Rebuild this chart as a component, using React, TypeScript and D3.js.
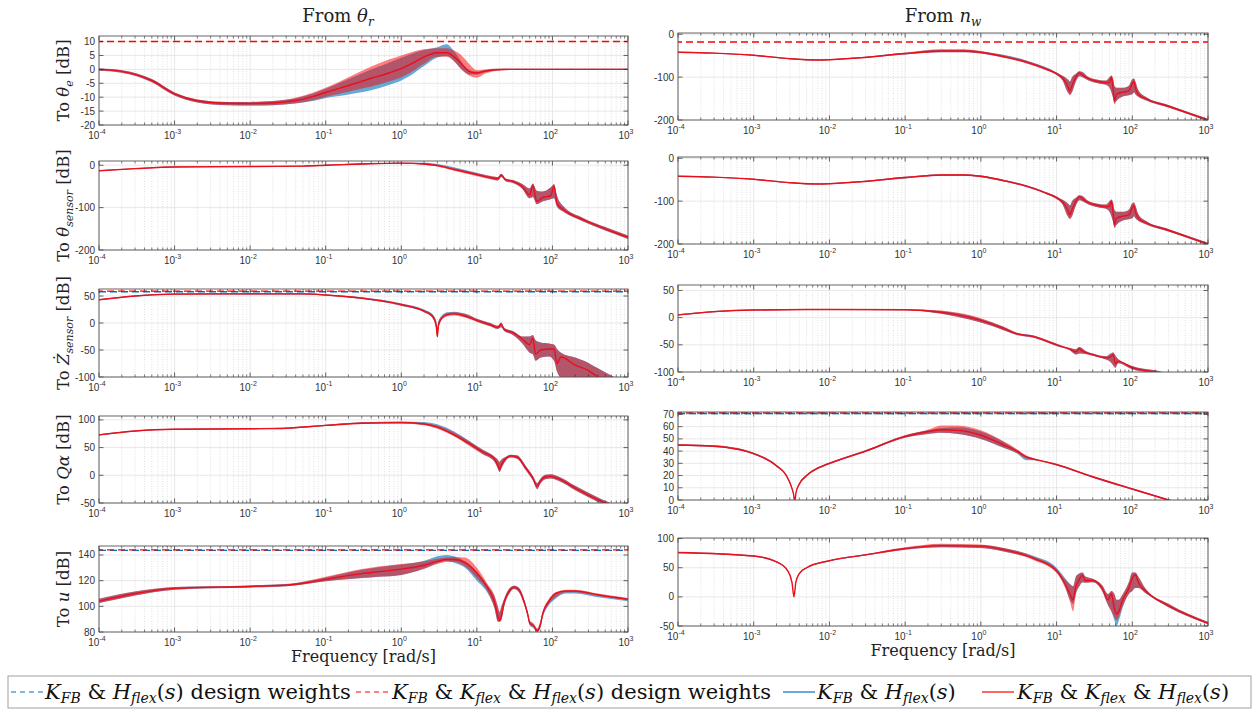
import React from 'react';
import * as d3 from 'd3';

type Row = [number, number, number, number, number, number];
// columns: frequency [rad/s], nominal dB, red band low, red band high, blue band low, blue band high

const thetaE: Row[] = [
  [1e-4, 0, -0.5, 0.3, -0.5, 0.3], [2e-4, -0.7, -1.2, -0.3, -1.2, -0.3], [5e-4, -4, -4.6, -3.5, -4.6, -3.5],
  [1e-3, -8.8, -9.4, -8.3, -9.4, -8.3], [2e-3, -11.3, -11.9, -10.8, -11.9, -10.8], [5e-3, -12.2, -12.9, -11.7, -12.9, -11.7],
  [1e-2, -12.3, -13, -11.7, -13, -11.7], [2e-2, -12.1, -12.9, -11.4, -12.9, -11.4], [4e-2, -11.2, -12.2, -10.2, -12.3, -10.4],
  [7e-2, -9.6, -11, -8.2, -11.3, -8.6], [0.1, -8.3, -9.8, -6.6, -10.3, -7], [0.2, -5.8, -8, -2.8, -9, -3.5],
  [0.4, -3.2, -6.2, 1, -7.5, 0], [0.7, -1.2, -4.3, 3.6, -5.5, 2.5], [1, 0.3, -2.8, 5, -4, 4.2],
  [1.5, 2.6, -0.2, 6.5, -1.2, 6], [2, 4.5, 2, 7.2, 1.2, 7], [3, 6, 4.5, 7.6, 4.3, 8], [4, 6, 4.5, 7.6, 4.8, 9],
  [5, 4.5, 2.8, 6.8, 3, 6.5], [6, 2.5, 0.5, 5.5, 0.5, 3.5], [7, 0.5, -1.3, 3.6, -1, 1], [8, -0.8, -2.3, 1.8, -1.8, -0.3],
  [10, -1.3, -3, -0.3, -1.8, -0.8], [13, -0.6, -1.5, 0, -1, -0.2], [20, -0.1, -0.4, 0.3, -0.3, 0.2],
  [30, 0, -0.2, 0.2, -0.2, 0.2], [1000, 0, -0.2, 0.2, -0.2, 0.2],
];

const thetaSensor: Row[] = [
  [1e-4, -13, -14, -12, -14, -12], [3e-4, -8, -9, -7, -9, -7], [1e-3, -4, -5, -3, -5, -3], [1e-2, -3, -4, -2, -4, -2],
  [5e-2, -2, -3, -1, -3, -1], [0.1, 0, -1, 1, -1, 1], [0.3, 3, 2, 4.5, 2, 4.5], [1, 5, 4, 6, 4, 6], [2, 3, 1, 5, 2, 6],
  [3, -1, -3, 2, 0, 3], [5, -10, -13, -7, -9, -5], [10, -22, -26, -19, -24, -18], [15, -29, -33, -25, -32, -26],
  [19, -32, -36, -28, -36, -28], [21, -23, -28, -20, -28, -20], [24, -34, -38, -31, -38, -31], [30, -38, -42, -35, -42, -35],
  [40, -50, -56, -44, -56, -44], [50, -70, -78, -55, -78, -55], [55, -48, -75, -43, -75, -43], [62, -85, -92, -60, -92, -60],
  [75, -76, -85, -62, -85, -62], [95, -72, -80, -52, -80, -52], [105, -50, -78, -45, -78, -45], [115, -90, -98, -72, -98, -72],
  [140, -105, -110, -97, -110, -97], [250, -128, -132, -124, -132, -124], [500, -150, -154, -146, -154, -146],
  [1000, -170, -174, -166, -174, -166],
];

const zDotSensor: Row[] = [
  [1e-4, 43, 42, 44, 42, 44], [3e-4, 50, 49, 51, 49, 51], [1e-3, 53.5, 52.5, 54.5, 52.5, 54.5], [1e-2, 54, 53, 55, 53, 55],
  [5e-2, 54, 53, 55, 53, 55], [0.1, 52, 51, 53, 51, 53], [0.3, 46, 44.5, 47.5, 44.5, 47.5], [1, 34, 32, 36, 32, 36],
  [2, 22, 20, 24, 20, 25], [2.6, 12, 9, 15, 10, 16], [2.9, -5, -12, 2, -10, 4], [3.0, -25, -28, -10, -26, -8],
  [3.1, -5, -12, 2, -10, 4], [3.4, 8, 5, 11, 7, 13], [4, 15, 12, 18, 14, 20], [5, 17, 14, 20, 16, 21], [7, 13, 10, 17, 11, 17],
  [10, 5, 2, 8, 3, 8], [15, -3, -6, 0, -6, 0], [19, -8, -11, -5, -11, -5], [21, -2, -8, 1, -8, 1], [23, -12, -15, -9, -15, -9],
  [30, -18, -22, -15, -22, -15], [40, -30, -38, -25, -38, -25], [50, -40, -55, -25, -55, -25], [55, -28, -58, -22, -58, -22],
  [60, -58, -70, -32, -70, -32], [70, -50, -64, -36, -64, -36], [90, -48, -62, -38, -62, -38], [105, -48, -70, -40, -70, -40],
  [115, -75, -90, -48, -90, -48], [130, -63, -102, -55, -102, -55], [200, -78, -112, -64, -112, -64],
  [300, -88, -120, -74, -120, -74], [400, -100, -128, -84, -128, -84], [700, -118, -140, -102, -140, -102],
  [1000, -130, -150, -112, -150, -112],
];

const qAlpha: Row[] = [
  [1e-4, 73, 72, 74, 72, 74], [3e-4, 80, 79, 81, 79, 81], [1e-3, 83, 82, 84, 82, 84], [1e-2, 84, 83, 85, 83, 85],
  [3e-2, 85, 84, 86, 84, 86], [0.1, 90, 89, 91, 89, 91], [0.3, 94, 93, 95.5, 93, 95.5], [1, 95, 93.5, 96.5, 93.5, 97],
  [2, 92.5, 90.5, 94.5, 91, 96], [3, 87, 84, 90, 86, 92], [5, 73, 70, 77, 72, 79], [8, 57, 53, 61, 54, 62],
  [12, 42, 38, 46, 38, 46], [17, 30, 25, 34, 25, 34], [19, 18, 12, 28, 12, 28], [20, 10, 6, 24, 6, 24],
  [21, 18, 12, 28, 12, 28], [24, 30, 26, 33, 26, 33], [28, 35, 32, 37, 32, 37], [34, 33, 30, 36, 30, 36],
  [45, 12, 8, 16, 8, 16], [55, -5, -9, -1, -9, -1], [63, -20, -25, -14, -25, -14], [68, -12, -17, -8, -17, -8],
  [80, -3, -7, 1, -7, 1], [95, -2, -6, 2, -6, 2], [120, -6, -10, -2, -10, -2], [200, -23, -27, -19, -27, -19],
  [400, -44, -48, -40, -48, -40], [500, -50, -54, -46, -54, -46], [1000, -68, -72, -64, -72, -64],
];

const uCmd: Row[] = [
  [1e-4, 104, 102.5, 106, 102.5, 106], [3e-4, 110, 108.5, 111.5, 108.5, 111.5], [1e-3, 114, 113, 115, 113, 115],
  [1e-2, 115.5, 114.7, 116.3, 114.7, 116.3], [3e-2, 116.5, 115.7, 117.3, 115.7, 117.3], [5e-2, 118, 117, 119.2, 117, 119],
  [0.1, 121, 119.5, 123, 119.5, 122.5], [0.3, 125.5, 122, 129, 122, 128.5], [0.5, 127, 123, 131, 123, 130.5],
  [1, 129, 124.5, 133, 124.5, 132.5], [2, 132, 129, 135, 129.5, 135.5], [3, 135, 133, 137, 133.5, 139],
  [4, 136.5, 134.5, 138, 135.5, 140], [5, 136.5, 134.5, 138.5, 134, 139], [7, 134, 131, 138, 130, 135],
  [10, 126, 122, 130, 120, 127], [14, 114, 111, 117, 110, 116], [17, 104, 99, 109, 99, 108], [19, 92, 88, 100, 88, 99],
  [20, 89, 88, 96, 88, 95], [21, 92, 89, 100, 89, 99], [23, 103, 100, 106, 100, 106], [27, 112, 110, 114, 110, 114],
  [31, 115, 113.5, 116, 113.5, 116], [36, 113, 111, 114.5, 111, 114.5], [42, 104, 102, 106, 102, 106],
  [47, 94, 92, 96, 92, 96], [50, 87, 86, 89, 85, 89], [56, 85, 84, 87, 83, 86], [63, 81, 80, 83, 80, 82],
  [68, 84, 82, 87, 82, 86], [75, 95, 93, 97, 92, 96], [90, 104, 102, 106, 101, 105], [110, 110, 107, 111, 106, 110],
  [150, 112, 111, 113, 110, 112], [200, 112, 111, 113, 110, 112], [400, 109, 108, 110, 107, 109],
  [1000, 105.5, 105, 106.5, 104, 105.5],
];

const nwThetaE: Row[] = [
  [1e-4, -42, -43, -41, -43, -41], [3e-4, -44, -45, -43, -45, -43], [1e-3, -49, -50, -48, -50, -48],
  [3e-3, -57, -58, -56, -58, -56], [7e-3, -60, -61, -59, -61, -59], [2e-2, -56, -57, -55, -57, -55],
  [0.1, -45, -47, -43, -47, -43], [0.3, -39, -42, -35, -42, -36], [0.6, -39, -42, -35, -42, -36],
  [1, -42, -45, -39, -45, -40], [2, -52, -55, -49, -54, -48], [4, -65, -68, -62, -67, -61], [7, -80, -83, -77, -82, -76],
  [10, -92, -95, -89, -95, -89], [12, -102, -108, -97, -108, -97], [14, -120, -135, -105, -135, -105],
  [15, -132, -142, -110, -140, -110], [16, -120, -135, -100, -135, -100], [18, -100, -110, -92, -110, -92],
  [20, -90, -98, -86, -98, -86], [22, -95, -100, -88, -100, -88], [26, -103, -107, -99, -107, -99],
  [35, -110, -114, -106, -114, -106], [45, -113, -118, -108, -118, -108], [50, -112, -125, -100, -125, -100],
  [53, -100, -135, -96, -135, -96], [56, -130, -150, -105, -150, -105], [58, -155, -162, -120, -162, -120],
  [62, -140, -155, -125, -155, -125], [75, -135, -145, -125, -145, -125], [90, -132, -142, -120, -142, -120],
  [100, -115, -140, -105, -140, -105], [105, -110, -135, -103, -135, -103], [110, -125, -140, -110, -140, -110],
  [120, -140, -146, -130, -146, -130], [150, -150, -154, -146, -154, -146], [300, -168, -171, -165, -171, -165],
  [1000, -200, -203, -197, -203, -197],
];

const nwThetaSensor: Row[] = [
  [1e-4, -42, -43, -41, -43, -41], [3e-4, -44, -45, -43, -45, -43], [1e-3, -49, -50, -48, -50, -48],
  [3e-3, -57, -58, -56, -58, -56], [7e-3, -60, -61, -59, -61, -59], [2e-2, -56, -57, -55, -57, -55],
  [0.1, -45, -47, -43, -47, -43], [0.3, -39, -41, -37, -41, -37], [0.6, -39, -41, -37, -41, -37],
  [1, -42, -44, -40, -44, -40], [2, -52, -54, -50, -54, -50], [4, -65, -67, -63, -67, -63], [7, -80, -82, -78, -82, -78],
  [10, -92, -95, -89, -95, -89], [12, -102, -108, -97, -108, -97], [14, -120, -135, -105, -135, -105],
  [15, -132, -142, -110, -140, -110], [16, -120, -135, -100, -135, -100], [18, -100, -110, -92, -110, -92],
  [20, -90, -98, -86, -98, -86], [22, -95, -100, -88, -100, -88], [26, -103, -107, -99, -107, -99],
  [35, -110, -114, -106, -114, -106], [45, -113, -118, -108, -118, -108], [50, -112, -125, -100, -125, -100],
  [53, -100, -135, -96, -135, -96], [56, -130, -150, -105, -150, -105], [58, -155, -162, -120, -162, -120],
  [62, -140, -155, -125, -155, -125], [75, -135, -145, -125, -145, -125], [90, -132, -142, -120, -142, -120],
  [100, -115, -140, -105, -140, -105], [105, -110, -135, -103, -135, -103], [110, -125, -140, -110, -140, -110],
  [120, -140, -146, -130, -146, -130], [150, -150, -154, -146, -154, -146], [300, -168, -171, -165, -171, -165],
  [1000, -200, -203, -197, -203, -197],
];

const nwZDot: Row[] = [
  [1e-4, 5, 4, 6, 4, 6], [3e-4, 11, 10, 12, 10, 12], [1e-3, 14, 13, 15, 13, 15], [1e-2, 15, 14, 16, 14, 16],
  [0.1, 14.5, 13.5, 15.5, 13.5, 15.5], [0.3, 10, 7, 13, 7, 12], [0.5, 5, 1, 9, 1, 8], [1, -5, -9, -1, -9, -2],
  [2, -20, -23, -17, -23, -17], [3, -30, -32, -28, -32, -28], [5, -35, -37, -33, -37, -33], [8, -45, -47, -43, -47, -43],
  [10, -50, -52, -48, -52, -48], [15, -58, -60, -56, -60, -56], [18, -63, -68, -58, -68, -58], [20, -57, -66, -54, -66, -54],
  [21, -60, -66, -55, -66, -55], [24, -64, -67, -61, -67, -61], [30, -68, -70, -66, -70, -66], [45, -74, -77, -71, -77, -71],
  [52, -72, -82, -66, -82, -66], [56, -68, -88, -64, -88, -64], [60, -85, -92, -70, -92, -70], [65, -80, -84, -76, -84, -76],
  [100, -92, -95, -89, -95, -89], [200, -100, -103, -97, -103, -97], [400, -110, -113, -107, -113, -107],
];

const nwQAlpha: Row[] = [
  [1e-4, 45, 44.3, 45.7, 44.3, 45.7], [3e-4, 44, 43.3, 44.7, 43.3, 44.7], [1e-3, 38, 37.3, 38.7, 37.3, 38.7],
  [2e-3, 28, 27.3, 28.7, 27.3, 28.7], [2.7e-3, 20, 19.3, 20.7, 19.3, 20.7], [3.1e-3, 12, 11.3, 12.7, 11.3, 12.7],
  [3.35e-3, 5, 4.5, 5.5, 4.5, 5.5], [3.48e-3, -1, -1.5, -0.5, -1.5, -0.5], [3.62e-3, 6, 5.5, 6.5, 5.5, 6.5],
  [4e-3, 13, 12.3, 13.7, 12.3, 13.7], [5e-3, 20, 19.3, 20.7, 19.3, 20.7], [7e-3, 26, 25.3, 26.7, 25.3, 26.7],
  [1e-2, 30, 29.3, 30.7, 29.3, 30.7], [3e-2, 40, 39.3, 40.7, 39.3, 40.7], [0.1, 52, 51, 53, 51, 53],
  [0.2, 56, 54, 57.5, 54, 57], [0.3, 57.5, 55, 61, 55, 59], [0.5, 57, 54, 61, 54, 59.5], [1, 53, 50, 57, 50, 56],
  [2, 45, 43, 48, 42.5, 47.5], [3, 40, 38.5, 41.5, 38, 41], [4, 35, 34, 36.5, 32.5, 36], [5, 33.5, 32.8, 34.2, 32.5, 34],
  [10, 29, 28.3, 29.7, 28.3, 29.7], [30, 19, 18.3, 19.7, 18.3, 19.7], [100, 9, 8.3, 9.7, 8.3, 9.7],
  [300, 0, -0.7, 0.7, -0.7, 0.7], [500, -4, -4.7, -3.3, -4.7, -3.3],
];

const nwU: Row[] = [
  [1e-4, 76, 75, 77, 75, 77], [1e-3, 70, 69, 71, 69, 71], [2e-3, 60, 59, 61, 59, 61], [2.8e-3, 45, 44, 46, 44, 46],
  [3.2e-3, 25, 24, 26, 24, 26], [3.4e-3, 0, -1, 1, -1, 1], [3.6e-3, 25, 24, 26, 24, 26], [4e-3, 40, 39, 41, 39, 41],
  [5e-3, 50, 49, 51, 49, 51], [1e-2, 62, 61, 63, 61, 63], [3e-2, 72, 71, 73, 71, 73], [0.1, 83, 81, 85, 81, 84],
  [0.3, 88, 85, 91, 85, 90], [1, 87, 84, 90, 84, 89], [2, 81, 78, 84, 78, 84], [5, 66, 63, 69, 64, 70],
  [10, 45, 41, 48, 42, 50], [13, 22, 15, 30, 17, 32], [15, 5, -8, 22, -5, 22], [16.5, -5, -25, 18, -12, 18],
  [18, 18, 5, 35, 5, 35], [20, 30, 18, 40, 18, 40], [22, 37, 25, 42, 25, 42], [24, 28, 24, 35, 24, 35],
  [30, 28, 25, 31, 25, 31], [40, 15, 10, 20, 10, 20], [48, -5, -15, 5, -15, 5], [53, 5, -25, 10, -25, 10],
  [58, -20, -35, 5, -40, 5], [62, -30, -40, -5, -50, -5], [66, -25, -35, -5, -42, -5], [75, -5, -15, 5, -18, 5],
  [90, 15, 5, 25, 5, 25], [100, 32, 10, 42, 10, 42], [110, 38, 15, 42, 15, 42], [120, 25, 15, 35, 15, 35],
  [150, 10, 6, 14, 6, 14], [300, -15, -18, -12, -18, -12], [1000, -45, -47, -43, -47, -43],
];

const xDecades = [1e-4, 1e-3, 1e-2, 1e-1, 1, 10, 100, 1000];
const xDecadeLabels = ['-4', '-3', '-2', '-1', '0', '1', '2', '3'];
const columnTitles = ['θ', 'n'];
const columnTitleSubs = ['r', 'w'];

type Part = [string, string]; // [text, style] n=normal i=italic b=italic subscript
const yLabels: Part[][] = [
  [['To ', 'n'], ['θ', 'i'], ['e', 'b'], [' [dB]', 'n']],
  [['To ', 'n'], ['θ', 'i'], ['sensor', 'b'], [' [dB]', 'n']],
  [['To ', 'n'], ['Ż', 'i'], ['sensor', 'b'], [' [dB]', 'n']],
  [['To ', 'n'], ['Qα', 'i'], [' [dB]', 'n']],
  [['To ', 'n'], ['u', 'i'], [' [dB]', 'n']],
];

const legendTexts: Part[][] = [
  [['K', 'i'], ['FB', 'b'], [' & ', 'n'], ['H', 'i'], ['flex', 'b'], ['(', 'n'], ['s', 'i'], [') design weights', 'n']],
  [['K', 'i'], ['FB', 'b'], [' & ', 'n'], ['K', 'i'], ['flex', 'b'], [' & ', 'n'], ['H', 'i'], ['flex', 'b'], ['(', 'n'], ['s', 'i'], [') design weights', 'n']],
  [['K', 'i'], ['FB', 'b'], [' & ', 'n'], ['H', 'i'], ['flex', 'b'], ['(', 'n'], ['s', 'i'], [')', 'n']],
  [['K', 'i'], ['FB', 'b'], [' & ', 'n'], ['K', 'i'], ['flex', 'b'], [' & ', 'n'], ['H', 'i'], ['flex', 'b'], ['(', 'n'], ['s', 'i'], [')', 'n']],
];

interface PanelCfg {
  data: Row[]; col: number; row: number; domain: [number, number]; ticks: number[];
  blueDash?: number; redDash?: number;
}

const panels: PanelCfg[] = [
  { data: thetaE, col: 0, row: 0, domain: [-20, 12], ticks: [-20, -15, -10, -5, 0, 5, 10], redDash: 10 },
  { data: thetaSensor, col: 0, row: 1, domain: [-200, 10], ticks: [-200, -100, 0] },
  { data: zDotSensor, col: 0, row: 2, domain: [-100, 63], ticks: [-100, -50, 0, 50], blueDash: 58, redDash: 59 },
  { data: qAlpha, col: 0, row: 3, domain: [-50, 107], ticks: [-50, 0, 50, 100] },
  { data: uCmd, col: 0, row: 4, domain: [80, 147], ticks: [80, 100, 120, 140], blueDash: 143.6, redDash: 144 },
  { data: nwThetaE, col: 1, row: 0, domain: [-200, 3], ticks: [-200, -100, 0], redDash: -18 },
  { data: nwThetaSensor, col: 1, row: 1, domain: [-200, 3], ticks: [-200, -100, 0] },
  { data: nwZDot, col: 1, row: 2, domain: [-100, 60], ticks: [-100, -50, 0, 50] },
  { data: nwQAlpha, col: 1, row: 3, domain: [0, 72], ticks: [0, 10, 20, 30, 40, 50, 60, 70], blueDash: 70.8, redDash: 71.2 },
  { data: nwU, col: 1, row: 4, domain: [-50, 101], ticks: [-50, 0, 50, 100] },
];

const colX: [number, number][] = [[99, 628], [678, 1208]];
const rowY: [number, number][][] = [
  [[36, 125], [161, 250], [289, 377], [416, 503], [546, 632]],
  [[33, 120], [157, 244], [285, 372], [412, 500], [538, 626]],
];
const titleX = [338, 943];

const BLUE = '#0072BD';
const RED = '#FF0000';
const TICK_FONT = "'Liberation Sans', Arial, sans-serif";
const SERIF = "'DejaVu Serif', 'Liberation Serif', serif";

function Rich({ parts, size, subSize, shift }: { parts: Part[]; size: number; subSize: number; shift: number }) {
  let cur = 0;
  return (
    <>
      {parts.map(([t, s], i) => {
        const target = s === 'b' ? shift : 0;
        const dy = target - cur;
        cur = target;
        return (
          <tspan key={i} dy={dy} fontStyle={s === 'n' ? 'normal' : 'italic'} fontSize={s === 'b' ? subSize : size}>
            {t}
          </tspan>
        );
      })}
    </>
  );
}

function Panel({ cfg, idx }: { cfg: PanelCfg; idx: number }) {
  const [x0, x1] = colX[cfg.col];
  const [y0, y1] = rowY[cfg.col][cfg.row];
  const xs = d3.scaleLog().domain([1e-4, 1e3]).range([x0, x1]);
  const ys = d3.scaleLinear().domain(cfg.domain).range([y1, y0]);
  const minor: number[] = [];
  xDecades.slice(0, -1).forEach((d) => { for (let k = 2; k <= 9; k++) minor.push(d * k); });
  const blueArea = d3.area<Row>().x((d) => xs(d[0])).y0((d) => ys(d[4])).y1((d) => ys(d[5])).curve(d3.curveMonotoneX);
  const redArea = d3.area<Row>().x((d) => xs(d[0])).y0((d) => ys(d[2])).y1((d) => ys(d[3])).curve(d3.curveMonotoneX);
  const line = d3.line<Row>().x((d) => xs(d[0])).y((d) => ys(d[1])).curve(d3.curveMonotoneX);
  const clipId = `clip${idx}`;
  const tickCol = '#262626';
  return (
    <g>
      <defs>
        <clipPath id={clipId}><rect x={x0} y={y0} width={x1 - x0} height={y1 - y0} /></clipPath>
      </defs>
      <rect x={x0} y={y0} width={x1 - x0} height={y1 - y0} fill="#fff" />
      {minor.map((m) => (
        <line key={'m' + m} x1={xs(m)} x2={xs(m)} y1={y0} y2={y1} stroke="#cfcfcf" strokeWidth={0.6} strokeDasharray="1,1.5" />
      ))}
      {xDecades.map((d) => (
        <line key={'g' + d} x1={xs(d)} x2={xs(d)} y1={y0} y2={y1} stroke="#e2e2e2" strokeWidth={0.8} />
      ))}
      {cfg.ticks.map((t) => (
        <line key={'h' + t} x1={x0} x2={x1} y1={ys(t)} y2={ys(t)} stroke="#e2e2e2" strokeWidth={0.8} />
      ))}
      <g clipPath={`url(#${clipId})`}>
        <path d={blueArea(cfg.data) || ''} fill={BLUE} fillOpacity={0.6} />
        <path d={redArea(cfg.data) || ''} fill={RED} fillOpacity={0.5} />
        <path d={line(cfg.data) || ''} fill="none" stroke="#E8101C" strokeWidth={1.4} />
        {cfg.blueDash !== undefined && (
          <line x1={x0} x2={x1} y1={ys(cfg.blueDash)} y2={ys(cfg.blueDash)} stroke={BLUE} strokeWidth={1.4} strokeDasharray="7,4" />
        )}
        {cfg.redDash !== undefined && (
          <line x1={x0} x2={x1} y1={ys(cfg.redDash)} y2={ys(cfg.redDash)} stroke={RED} strokeWidth={1.4} strokeDasharray="7,4" strokeDashoffset={3} />
        )}
      </g>
      {minor.map((m) => (
        <g key={'mt' + m}>
          <line x1={xs(m)} x2={xs(m)} y1={y1} y2={y1 - 2.5} stroke={tickCol} strokeWidth={0.6} />
          <line x1={xs(m)} x2={xs(m)} y1={y0} y2={y0 + 2.5} stroke={tickCol} strokeWidth={0.6} />
        </g>
      ))}
      {xDecades.map((d, i) => (
        <g key={'xt' + d}>
          <line x1={xs(d)} x2={xs(d)} y1={y1} y2={y1 - 4.5} stroke={tickCol} strokeWidth={0.7} />
          <line x1={xs(d)} x2={xs(d)} y1={y0} y2={y0 + 4.5} stroke={tickCol} strokeWidth={0.7} />
          <text x={xs(d) - 2} y={y1 + 14} textAnchor="middle" fontFamily={TICK_FONT} fontSize={10} fill="#333">
            10<tspan dy={-5} fontSize={7}>{xDecadeLabels[i]}</tspan>
          </text>
        </g>
      ))}
      {cfg.ticks.map((t) => (
        <g key={'yt' + t}>
          <line x1={x0} x2={x0 + 4.5} y1={ys(t)} y2={ys(t)} stroke={tickCol} strokeWidth={0.7} />
          <line x1={x1} x2={x1 - 4.5} y1={ys(t)} y2={ys(t)} stroke={tickCol} strokeWidth={0.7} />
          <text x={x0 - 4} y={ys(t) + 3.5} textAnchor="end" fontFamily={TICK_FONT} fontSize={10} fill="#333">{t}</text>
        </g>
      ))}
      <rect x={x0} y={y0} width={x1 - x0} height={y1 - y0} fill="none" stroke="#555" strokeWidth={0.9} />
      {cfg.col === 0 && (
        <text transform={`translate(${x0 - 30},${(y0 + y1) / 2}) rotate(-90)`} textAnchor="middle" fontFamily={SERIF} fontSize={16.5} fill="#222">
          <Rich parts={yLabels[cfg.row]} size={16.5} subSize={11} shift={4} />
        </text>
      )}
    </g>
  );
}

const legendPos = [
  { x: 11, dash: true, color: BLUE, tx: 45 },
  { x: 356, dash: true, color: RED, tx: 392 },
  { x: 783, dash: false, color: BLUE, tx: 817 },
  { x: 982, dash: false, color: RED, tx: 1017 },
];

export default function App() {
  return (
    <svg width={1259} height={713} style={{ position: 'absolute', left: 0, top: 0, background: '#fff' }}>
      <rect width={1259} height={713} fill="#fff" />
      {[0, 1].map((c) => (
        <text key={'t' + c} x={titleX[c]} y={22} textAnchor="middle" fontFamily={SERIF} fontSize={18} fill="#222">
          From <tspan fontStyle="italic">{columnTitles[c]}</tspan>
          <tspan dy={4} fontSize={12} fontStyle="italic">{columnTitleSubs[c]}</tspan>
        </text>
      ))}
      {panels.map((p, i) => <Panel key={i} cfg={p} idx={i} />)}
      {[0, 1].map((c) => (
        <text key={'xl' + c} x={(colX[c][0] + colX[c][1]) / 2} y={rowY[c][4][1] + 30} textAnchor="middle" fontFamily={SERIF} fontSize={16} fill="#222">
          Frequency [rad/s]
        </text>
      ))}
      <rect x={8} y={676} width={1243} height={32} fill="#fff" stroke="#a0a0a0" strokeWidth={1} />
      {legendPos.map((l, i) => (
        <g key={'lg' + i}>
          <line x1={l.x} x2={l.x + 32} y1={692} y2={692} stroke={l.color} strokeWidth={1.2} strokeDasharray={l.dash ? '5,4' : undefined} />
          <text x={l.tx} y={699} fontFamily={SERIF} fontSize={21} fill="#111">
            <Rich parts={legendTexts[i]} size={21} subSize={14} shift={4} />
          </text>
        </g>
      ))}
    </svg>
  );
}
